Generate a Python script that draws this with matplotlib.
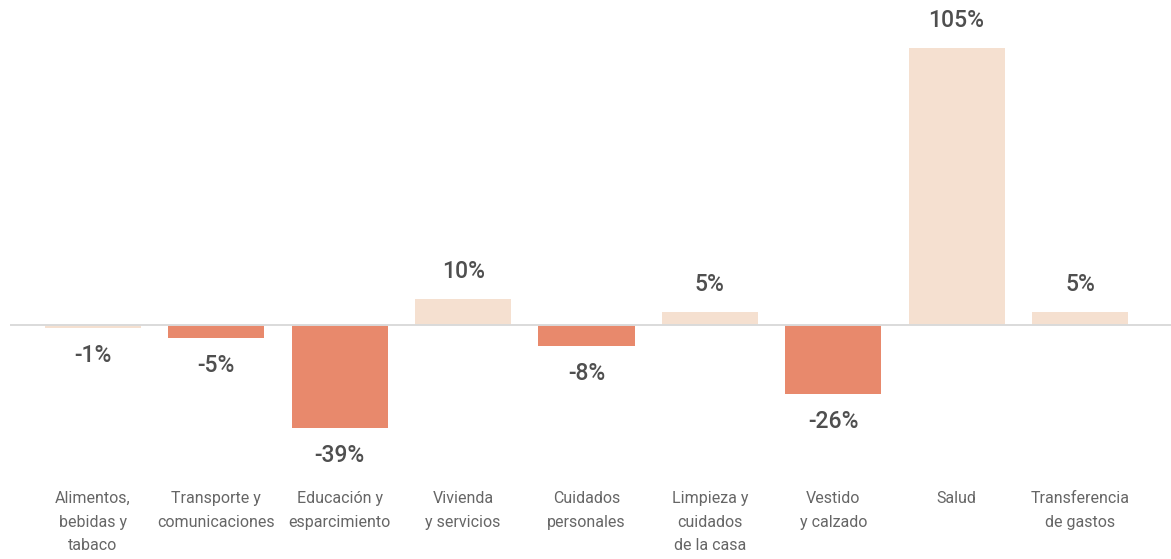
import matplotlib
matplotlib.use("Agg")
import matplotlib.pyplot as plt
import matplotlib.transforms as mtransforms
import numpy as np

categories = [
    "Alimentos,\nbebidas y\ntabaco",
    "Transporte y\ncomunicaciones",
    "Educación y\nesparcimiento",
    "Vivienda\ny servicios",
    "Cuidados\npersonales",
    "Limpieza y\ncuidados\nde la casa",
    "Vestido\ny calzado",
    "Salud",
    "Transferencia\nde gastos",
]
values = [-1, -5, -39, 10, -8, 5, -26, 105, 5]
labels = ["-1%", "-5%", "-39%", "10%", "-8%", "5%", "-26%", "105%", "5%"]
highlight = [False, True, True, False, True, False, True, False, False]

LIGHT = "#F5E0D0"
DARK = "#E8896C"

W, H = 1171, 559
fig = plt.figure(figsize=(W / 100, H / 100), dpi=100)
ax = fig.add_axes([10 / W, 0, 1 - 10 / W, 1])

x = np.arange(len(categories))
step_px = (1080 - 93) / 8.0
ax.set_xlim((10 - 93) / step_px, (1171 - 93) / step_px)
ppu = 2.64
ax.set_ylim(-(H - 325) / ppu, 325 / ppu)
ax.axis("off")

colors = [DARK if h else LIGHT for h in highlight]
ax.bar(x, values, width=0.78, color=colors, zorder=2)
ax.axhline(0, color="#dadada", lw=1.4, zorder=3)

for xi, v, lab in zip(x, values, labels):
    off = 19.5 if v > 0 else -20
    ax.annotate(lab, (xi, v), xytext=(0, off), textcoords="offset points",
                ha="center", va="center", fontsize=16.5, color="#4f4f4f",
                family="Roboto", fontweight=500)

trans = mtransforms.blended_transform_factory(ax.transData, ax.transAxes)
for xi, cat in zip(x, categories):
    ax.text(xi, 1 - 491 / H, cat, transform=trans, ha="center", va="top",
            fontsize=11.5, color="#666666", family="Roboto", fontweight="normal",
            linespacing=1.72)

fig.savefig("out.png", dpi=100)
